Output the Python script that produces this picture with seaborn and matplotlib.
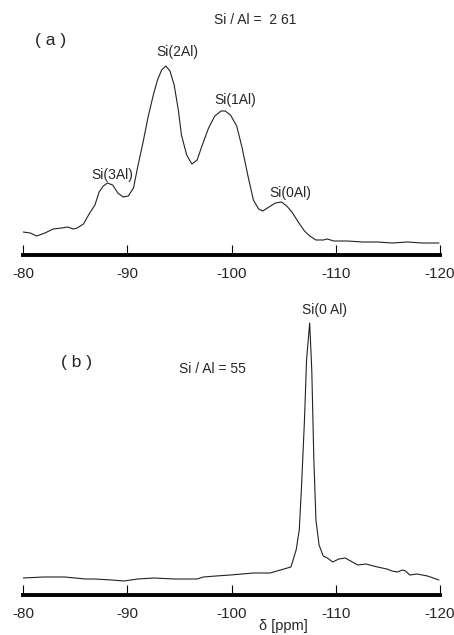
import numpy as np
import pandas as pd
import matplotlib
matplotlib.use('Agg')
import matplotlib.pyplot as plt
import seaborn as sns

# spectrum (a), Si/Al = 2.61 : chemical shift (ppm) and intensity (arb.)
ppm_a = [-80.0, -80.7, -81.3, -82.1, -82.9, -83.7, -84.3, -84.8, -85.2, -85.8,
         -86.4, -86.9, -87.3, -87.7, -88.1, -88.6, -89.1, -89.6, -90.1, -90.6,
         -91.0, -91.5, -92.0, -92.5, -92.9, -93.3, -93.7, -94.1, -94.5, -94.9,
         -95.2, -95.7, -96.2, -96.7, -97.2, -97.8, -98.4, -99.0, -99.4, -99.9,
         -100.5, -101.0, -101.6, -102.1, -102.6, -103.0, -103.6, -104.2, -104.8, -105.3,
         -105.8, -106.4, -107.0, -107.5, -108.1, -108.8, -109.2, -109.8, -111.1, -112.6,
         -114.0, -115.4, -116.9, -118.3, -119.9]
int_a = [23, 22, 19, 22, 26, 27, 28, 26, 27, 31,
         42, 50, 63, 69, 72, 70, 62, 58, 59, 67,
         88, 112, 138, 160, 175, 185, 189, 184, 170, 145,
         120, 100, 91, 95, 110, 127, 139, 144, 144, 140,
         129, 108, 78, 55, 46, 44, 48, 52, 53, 49,
         43, 33, 24, 19, 15, 15, 16, 14, 14, 13,
         13, 12, 13, 12, 12]

# spectrum (b), Si/Al = 55
ppm_b = [-80.0, -82.0, -84.0, -86.0, -86.9, -88.5, -89.7, -91.0, -92.6, -94.5,
         -96.0, -96.7, -97.3, -98.5, -99.9, -101.0, -102.1, -103.0, -103.7, -104.7,
         -105.7, -106.2, -106.5, -106.7, -107.0, -107.2, -107.5, -107.7, -107.9, -108.1,
         -108.4, -108.8, -109.2, -109.7, -110.3, -110.9, -111.6, -112.1, -112.9, -114.0,
         -114.9, -115.4, -115.9, -116.4, -116.7, -117.1, -117.8, -118.8, -119.9]
int_b = [17, 18, 18, 16, 16, 15, 14, 16, 17, 16,
         16, 16, 18, 19, 20, 21, 22, 22, 22, 25,
         28, 45, 65, 105, 175, 235, 272, 225, 135, 75,
         50, 39, 37, 33, 36, 37, 33, 30, 31, 28,
         26, 24, 23, 25, 24, 20, 21, 19, 15]

ticks = [-80, -90, -100, -110, -120]
tick_labels = ['-80', '-90', '-100', '-110', '-120']

sns.set_style('white')
plt.rcParams['font.family'] = ['Liberation Sans', 'DejaVu Sans']

fig = plt.figure(figsize=(4.54, 6.35), dpi=100)
ax_a = fig.add_axes([23 / 454, 1 - 255 / 635, 417 / 454, 255 / 635])
ax_b = fig.add_axes([23 / 454, 40 / 635, 417 / 454, 305 / 635])

df_a = pd.DataFrame({'ppm': ppm_a, 'intensity': int_a})
df_b = pd.DataFrame({'ppm': ppm_b, 'intensity': int_b})
sns.lineplot(data=df_a, x='ppm', y='intensity', ax=ax_a, color='#222222', lw=0.8, sort=False)
sns.lineplot(data=df_b, x='ppm', y='intensity', ax=ax_b, color='#222222', lw=0.8, sort=False)

for ax, ytop in [(ax_a, 255), (ax_b, 305)]:
    ax.set_xlim(-80, -120)
    ax.set_ylim(0, ytop)
    ax.patch.set_alpha(0)
    for s in ['top', 'left', 'right']:
        ax.spines[s].set_visible(False)
    ax.spines['bottom'].set_linewidth(2.8)
    ax.spines['bottom'].set_color('black')
    ax.set_yticks([])
    ax.set_ylabel('')
    ax.set_xlabel('')
    ax.set_xticks(ticks)
    ax.set_xticklabels(tick_labels, family=['Liberation Sans Narrow', 'Liberation Sans'])
    ax.tick_params(axis='x', direction='in', length=7, width=0.8, pad=9,
                   labelsize=11, color='black', bottom=True)

tsize = 10
ax_a.text(-102.3, 235, 'Si / Al =  2 61', ha='center', va='center', fontsize=tsize)
ax_a.text(-82.6, 215, '( a )', ha='center', va='center', fontsize=12.5)
ax_a.text(-94.8, 203, 'Si(2Al)', ha='center', va='center', fontsize=tsize)
ax_a.text(-100.4, 155, 'Si(1Al)', ha='center', va='center', fontsize=tsize)
ax_a.text(-88.6, 80, 'Si(3Al)', ha='center', va='center', fontsize=tsize)
ax_a.text(-105.6, 62, 'Si(0Al)', ha='center', va='center', fontsize=tsize)

ax_b.text(-108.9, 285, 'Si(0 Al)', ha='center', va='center', fontsize=tsize)
ax_b.text(-85.1, 233, '( b )', ha='center', va='center', fontsize=12.5)
ax_b.text(-98.2, 226, 'Si / Al = 55', ha='center', va='center', fontsize=tsize)

ax_b.set_xlabel('δ [ppm]', fontsize=10.5)
ax_b.xaxis.set_label_coords((283 - 23) / 417, -0.08)

fig.savefig('out.png', dpi=100)
